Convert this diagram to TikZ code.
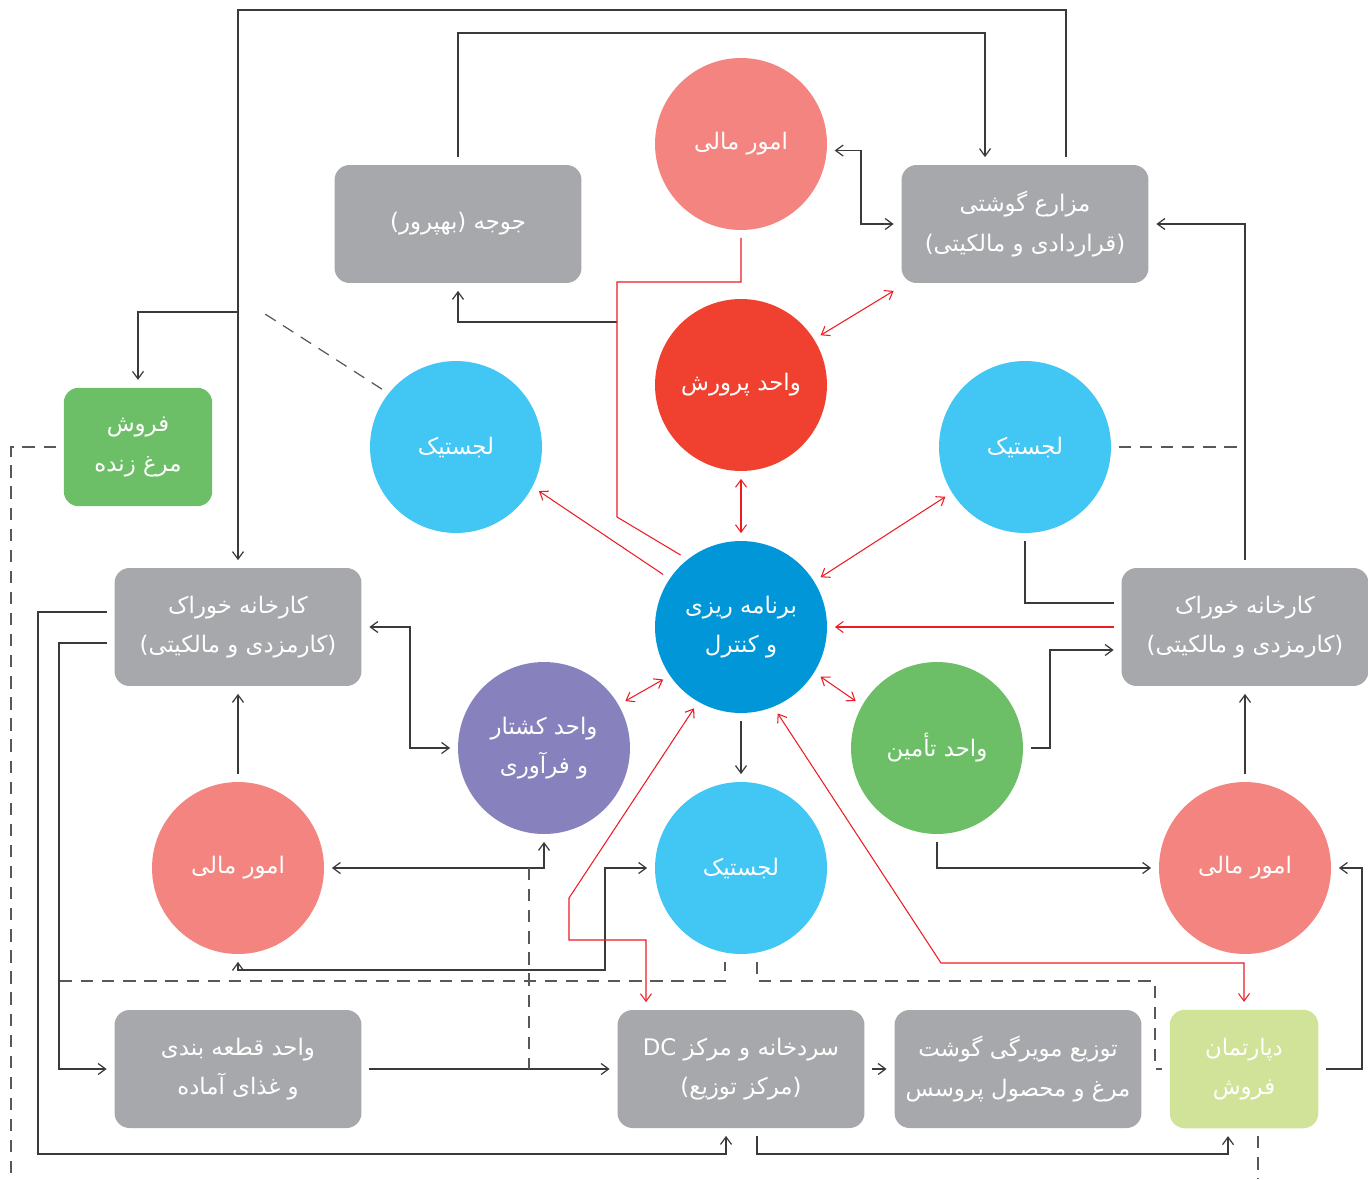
\documentclass[tikz,border=0pt]{standalone}
\usepackage{fontspec}
\usetikzlibrary{arrows.meta}
\newfontfamily\arabicfont[Script=Arabic]{DejaVu Sans}
\TeXXeTstate=1
\newcommand{\fatxt}[1]{\beginR #1\endR}
\definecolor{boxgray}{HTML}{A7A8AB}
\definecolor{salmon}{HTML}{F3847F}
\definecolor{unitred}{HTML}{EF4030}
\definecolor{skyblue}{HTML}{42C6F3}
\definecolor{planblue}{HTML}{0096D8}
\definecolor{slaughterpurple}{HTML}{8782BD}
\definecolor{leafgreen}{HTML}{6CBF67}
\definecolor{palegreen}{HTML}{D1E399}
\definecolor{linegray}{HTML}{3A3A3A}
\definecolor{redline}{HTML}{ED1C24}

\begin{document}
\begin{tikzpicture}[x=0.02cm,y=-0.02cm,
>={Straight Barb[length=1.5mm,width=2.2mm]},
every node/.style={text=white,align=center,outer sep=4.5pt,
  font=\arabicfont\fontsize{13}{22.5}\selectfont},
box/.style={rounded corners=0.3cm,minimum width=4.94cm,minimum height=2.36cm},
graybox/.style={box,fill=boxgray},
smallbox/.style={rounded corners=0.3cm,minimum width=2.97cm,minimum height=2.37cm},
unit/.style={circle,minimum size=3.44cm,inner sep=0pt},
blk/.style={draw=linegray,line width=0.7pt},
rd/.style={draw=redline,line width=0.6pt},
dsh/.style={draw=linegray!85,line width=0.7pt,dash pattern=on 7pt off 5pt}]

\useasboundingbox (0,0) rectangle (1368,1179);

% boxes
\node[graybox] (chick) at (458,224) {\fatxt{جوجه (بهپرور)}};
\node[graybox] (farm) at (1025,224) {\fatxt{مزارع گوشتی}\\\fatxt{(قراردادی و مالکیتی)}};
\node[smallbox,fill=leafgreen] (live) at (138,447) {\fatxt{فروش}\\\fatxt{مرغ زنده}};
\node[graybox] (feedL) at (238,627) {\fatxt{کارخانه خوراک}\\\fatxt{(کارمزدی و مالکیتی)}};
\node[graybox] (feedR) at (1245,627) {\fatxt{کارخانه خوراک}\\\fatxt{(کارمزدی و مالکیتی)}};
\node[graybox] (cut) at (238,1069) {\fatxt{واحد قطعه بندی}\\\fatxt{و غذای آماده}};
\node[graybox] (dc) at (741,1069) {\fatxt{سردخانه و مرکز \beginL DC\endL}\\\fatxt{(مرکز توزیع)}};
\node[graybox] (dist) at (1018,1069) {\fatxt{توزیع مویرگی گوشت}\\\fatxt{مرغ و محصول پروسس}};
\node[smallbox,fill=palegreen] (sales) at (1244,1069) {\fatxt{دپارتمان}\\\fatxt{فروش}};

% units
\node[unit,fill=salmon] (finT) at (741,144) {\fatxt{امور مالی}};
\node[unit,fill=unitred] (grow) at (741,385) {\fatxt{واحد پرورش}};
\node[unit,fill=skyblue] (logL) at (456,447) {\fatxt{لجستیک}};
\node[unit,fill=skyblue] (logR) at (1025,447) {\fatxt{لجستیک}};
\node[unit,fill=planblue] (plan) at (741,627) {\fatxt{برنامه ریزی}\\\fatxt{و کنترل}};
\node[unit,fill=slaughterpurple] (slaughter) at (544,748) {\fatxt{واحد کشتار}\\\fatxt{و فرآوری}};
\node[unit,fill=leafgreen] (supply) at (937,748) {\fatxt{واحد تأمین}};
\node[unit,fill=salmon] (finL) at (238,868) {\fatxt{امور مالی}};
\node[unit,fill=skyblue] (logB) at (741,868) {\fatxt{لجستیک}};
\node[unit,fill=salmon] (finR) at (1245,868) {\fatxt{امور مالی}};

\coordinate (br) at (238,312);
\coordinate (jn) at (617,322);

% black connectors
\draw[blk,->] (farm.north -| 1066,0) |- (238,10) -- (feedL.north);
\draw[blk,->] (br) -| (live.north);
\draw[blk,->] (chick.north) |- (985,33) -- (farm.north -| 985,0);
\draw[blk,->] (jn) -| (chick.south);
\draw[blk,<->] (finT.-4) -| (861,224) -- (farm.west);
\draw[blk,->] (feedR.north) |- (farm.east);
\draw[blk] (logR.south) -- (1025,603) -- (feedR.west |- 0,603);
\draw[blk,->] (supply.east) -- (1050,748) |- (feedR.west |- 0,650);
\draw[blk,->] (supply.south) |- (finR.west);
\draw[blk,->] (finR.north) -- (feedR.south);
\draw[blk,->] (plan.south) -- (logB.north);
\draw[blk,<->] (feedL.east) -- (410,627) |- (slaughter.west);
\draw[blk,->] (finL.north) -- (feedL.south);
\draw[blk,<->] (finL.east) -| (slaughter.south);
\draw[blk,<->] (finL.south) |- (605,970) |- (logB.west);
\draw[blk,->] (feedL.west |- 0,612) -| (38,1154) -| (dc.south -| 726,0);
\draw[blk,->] (feedL.west |- 0,643) -| (59,1069) -- (cut.west);
\draw[blk,->] (cut.east) -- (dc.west);
\draw[blk,->] (dc.east) -- (dist.west);
\draw[blk,->] (dc.south -| 757,0) -- (757,1154) -| (sales.south -| 1228,0);
\draw[blk,->] (sales.east) -- (1362,1069) |- (finR.east);

% red connectors
\draw[rd] (finT.south) |- (617,282) -- (617,517) -- (plan.130);
\draw[rd,->] (plan.146) -- (logL.-28);
\draw[rd,<->] (grow.32) -- (farm.south west);
\draw[rd,<->] (grow.south) -- (plan.north);
\draw[rd,<->] (plan.32) -- (logR.212);
\draw[rd,->] (feedR.west) -- (plan.east);
\draw[rd,<->] (plan.214) -- (slaughter.30);
\draw[rd,<->] (plan.-32) -- (supply.150);
\draw[rd,<->] (plan.240) -- (569,898) -- (569,940) -| (dc.north -| 646,0);
\draw[rd,<->] (plan.-67) -- (941,963) -| (sales.north);

% dashed connectors
\draw[dsh] (logL.142) -- (262,312);
\draw[dsh] (logR.east) -- (1241,447);
\draw[dsh] (live.west) -| (11,1179);
\draw[dsh] (529,868) -- (529,1069);
\draw[dsh] (60,981) -| (logB.south -| 725,0);
\draw[dsh] (logB.south -| 757,0) |- (1155,981) |- (sales.west);
\draw[dsh] (sales.south -| 1258,0) -- (1258,1179);
\end{tikzpicture}
\end{document}
